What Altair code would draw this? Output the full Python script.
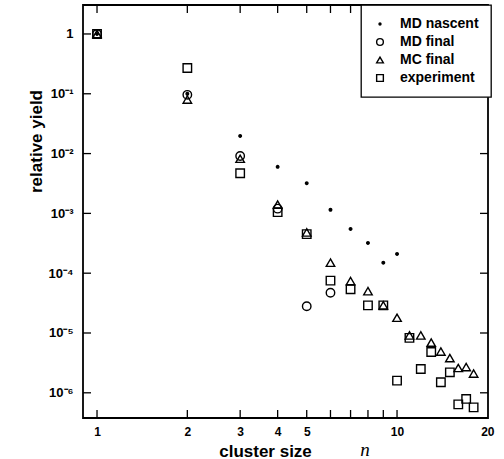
import altair as alt
import pandas as pd

# ---- data ----
n_nascent = [1, 2, 3, 4, 5, 6, 7, 8, 9, 10]
md_nascent = [1.0, 0.1, 0.0197, 0.006, 0.0032, 0.00115, 0.00055, 0.00032, 0.00015, 0.00021]

n_mdfinal = [1, 2, 3, 4, 5, 6]
md_final = [1.0, 0.096, 0.0091, 0.0012, 2.8e-5, 4.7e-5]

n_mc = list(range(1, 19))
mc_final = [1.0, 0.08, 0.0082, 0.0014, 0.00048, 1.5e-4, 7.4e-5, 5.0e-5, 2.9e-5, 1.8e-5,
            9.1e-6, 9.1e-6, 6.9e-6, 4.9e-6, 3.8e-6, 2.6e-6, 2.7e-6, 2.1e-6]

n_exp = list(range(1, 19))
experiment = [1.0, 0.27, 0.0047, 0.00105, 0.00045, 7.5e-5, 5.4e-5, 2.9e-5, 2.9e-5, 1.6e-6,
              8.3e-6, 2.5e-6, 4.8e-6, 1.5e-6, 2.2e-6, 6.4e-7, 7.9e-7, 5.7e-7]

series = ["MD nascent", "MD final", "MC final", "experiment"]
small_dot = "M0,-0.3A0.3,0.3 0 1,1 0,0.3A0.3,0.3 0 1,1 0,-0.3Z"
shapes = [small_dot, "circle", "triangle-up", "square"]
fills = ["black", "transparent", "transparent", "transparent"]
strokes = ["black", "black", "black", "black"]

x_label_values = [1, 2, 3, 4, 5, 10, 20]
x_tick_values = [1, 2, 3, 4, 5, 6, 7, 8, 9, 10]
y_tick_values = [1e-6, 1e-5, 1e-4, 1e-3, 1e-2, 1e-1, 1]

W, H = 405, 413
FONT = "Liberation Sans"

rows = []
for xs_, ys_, name in [(n_nascent, md_nascent, "MD nascent"), (n_mdfinal, md_final, "MD final"),
                       (n_mc, mc_final, "MC final"), (n_exp, experiment, "experiment")]:
    for a, b in zip(xs_, ys_):
        rows.append({"n": a, "y": b, "series": name})
df = pd.DataFrame(rows)

xscale = alt.Scale(type="log", domain=[0.898, 20.1], nice=False)
yscale = alt.Scale(type="log", domain=[3.79e-7, 3.05], nice=False)

ylabel_expr = ("datum.value == 1 ? '1' : '10' + '\u207b' + "
               "['', '\u00b9', '\u00b2', '\u00b3', '\u2074', '\u2075', '\u2076'][round(-log(datum.value)/LN10)]")

points = alt.Chart(df).mark_point(strokeWidth=1.4, opacity=1, fillOpacity=1, size=72).encode(
    x=alt.X("n:Q", scale=xscale,
            axis=alt.Axis(values=x_label_values, tickSize=0, domain=False, grid=False,
                          labelFont=FONT, labelFontWeight="bold", labelFontSize=12, labelColor="black",
                          labelPadding=8, labelFlush=False, labelExpr="datum.value",
                          title="cluster size", titleFont=FONT, titleFontWeight="bold", titleFontSize=17,
                          titleColor="black", titleX=182, titleY=38, titleAlign="center",
                          titleBaseline="alphabetic", titleAnchor="start")),
    y=alt.Y("y:Q", scale=yscale,
            axis=alt.Axis(values=y_tick_values, tickSize=0, domain=False, grid=False,
                          labelFont=FONT, labelFontWeight="bold", labelFontSize=13, labelColor="black",
                          labelPadding=10, labelFlush=False, labelExpr=ylabel_expr,
                          title="relative yield", titleFont=FONT, titleFontWeight="bold", titleFontSize=17,
                          titleColor="black", titleX=-42, titleY=136, titleAlign="center",
                          titleBaseline="alphabetic", titleAngle=270, titleAnchor="start")),
    shape=alt.Shape("series:N", scale=alt.Scale(domain=series, range=shapes), title=None),
    fill=alt.Fill("series:N", scale=alt.Scale(domain=series, range=fills), title=None),
    stroke=alt.Stroke("series:N", scale=alt.Scale(domain=series, range=strokes), title=None),
)

xt = pd.DataFrame({"t": x_tick_values})
yt = pd.DataFrame({"t": y_tick_values})

bottom_ticks = alt.Chart(xt).mark_rule(color="black", strokeWidth=1.3).encode(
    x=alt.X("t:Q", scale=xscale), y=alt.value(H), y2=alt.value(H - 8))
top_ticks = alt.Chart(xt).mark_rule(color="black", strokeWidth=1.3).encode(
    x=alt.X("t:Q", scale=xscale), y=alt.value(0), y2=alt.value(8))
left_ticks = alt.Chart(yt).mark_rule(color="black", strokeWidth=1.3).encode(
    y=alt.Y("t:Q", scale=yscale), x=alt.value(0), x2=alt.value(8))
right_ticks = alt.Chart(yt).mark_rule(color="black", strokeWidth=1.3).encode(
    y=alt.Y("t:Q", scale=yscale), x=alt.value(W), x2=alt.value(W - 8))

n_label = alt.Chart(pd.DataFrame({"t": ["n"]})).mark_text(
    font="Liberation Serif", fontStyle="italic", fontSize=19, align="center",
    baseline="alphabetic", color="black").encode(
    text="t:N", x=alt.value(282), y=alt.value(456 - 5))

chart = alt.layer(bottom_ticks, top_ticks, left_ticks, right_ticks, points, n_label).properties(
    width=W, height=H,
    autosize=alt.AutoSizeParams(type="none"),
    padding={"left": 83, "top": 5, "right": 16, "bottom": 41},
    background="white",
).configure_view(
    stroke="black", strokeWidth=1.8
).configure_legend(
    orient="none", legendX=278, legendY=0,
    fillColor="white", strokeColor="black", strokeWidth=1.3,
    padding=12, rowPadding=4,
    labelFont=FONT, labelFontWeight="bold", labelFontSize=14, labelColor="black",
    labelOffset=13, symbolStrokeWidth=1.4, symbolSize=45,
)

chart.save("out.html", embed_options={"renderer": "svg", "actions": False})
